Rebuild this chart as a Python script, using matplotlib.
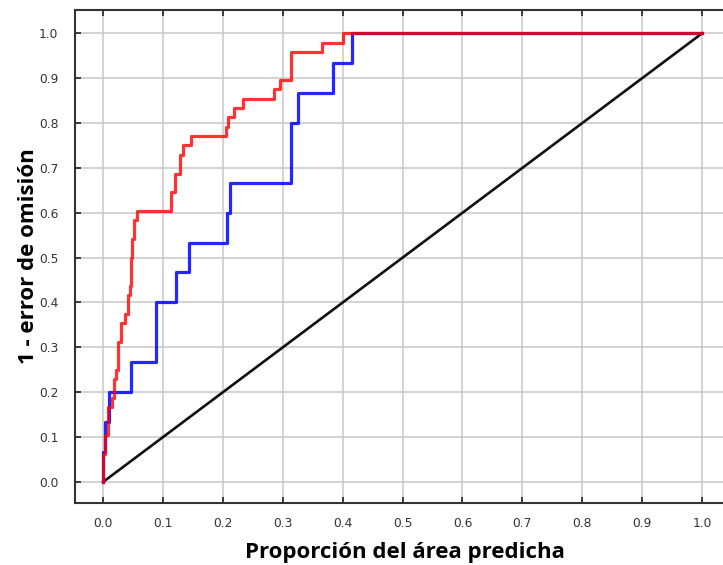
import matplotlib.pyplot as plt
import numpy as np

# step curves: x where the curve jumps, y value after the jump
train_x = [0, 0, 0.003, 0.008, 0.014, 0.018, 0.022, 0.025, 0.030, 0.036, 0.042,
           0.045, 0.046, 0.048, 0.052, 0.057, 0.114, 0.120, 0.129, 0.133, 0.146,
           0.205, 0.209, 0.218, 0.234, 0.285, 0.295, 0.313, 0.365, 0.401, 1.0]
train_y = [0, 0.0625, 0.104, 0.167, 0.1875, 0.229, 0.25, 0.3125, 0.354, 0.375, 0.417,
           0.4375, 0.5, 0.542, 0.583, 0.604, 0.646, 0.6875, 0.729, 0.75, 0.771,
           0.792, 0.8125, 0.833, 0.854, 0.875, 0.896, 0.958, 0.979, 1.0, 1.0]

test_x = [0, 0, 0.003, 0.0095, 0.046, 0.089, 0.122, 0.143, 0.206, 0.211,
          0.314, 0.326, 0.383, 0.415, 1.0]
test_y = [0, 0.067, 0.133, 0.2, 0.267, 0.4, 0.467, 0.533, 0.6, 0.667,
          0.8, 0.867, 0.933, 1.0, 1.0]

random_x = [0, 1]
random_y = [0, 1]

ticks = np.round(np.arange(0, 1.01, 0.1), 1)

fig = plt.figure(figsize=(7.23, 5.65), dpi=100)
ax = fig.add_axes([75 / 723, 62 / 565, 660 / 723, 493 / 565])

ax.plot(random_x, random_y, color='#111111', lw=1.9, zorder=3)
ax.step(test_x, test_y, where='post', color='#0000ff', alpha=0.85, lw=2.3, zorder=4)
ax.step(train_x, train_y, where='post', color='#ff0000', alpha=0.8, lw=2.3, zorder=5)

ax.set_xlim(-0.047, 1.055)
ax.set_ylim(-0.047, 1.052)
ax.set_xticks(ticks)
ax.set_yticks(ticks)
ax.set_xticklabels([f'{t:.1f}' for t in ticks])
ax.set_yticklabels([f'{t:.1f}' for t in ticks])
ax.grid(True, color='#c8c8c8', lw=1.1)
ax.set_axisbelow(True)

ax.tick_params(direction='in', length=4, width=1.2, colors='#222222',
               labelcolor='#333333', labelsize=8.8, top=True, pad=10)
ax.tick_params(axis='y', pad=12)
for s in ax.spines.values():
    s.set_color('#333333')
    s.set_linewidth(1.5)

ax.set_xlabel('Proporción del área predicha', family='Open Sans', weight='bold',
              fontsize=16, labelpad=9)
ax.set_ylabel('1 - error de omisión', family='Open Sans', weight='bold',
              fontsize=16, labelpad=0)

fig.savefig('out.png', dpi=100)
